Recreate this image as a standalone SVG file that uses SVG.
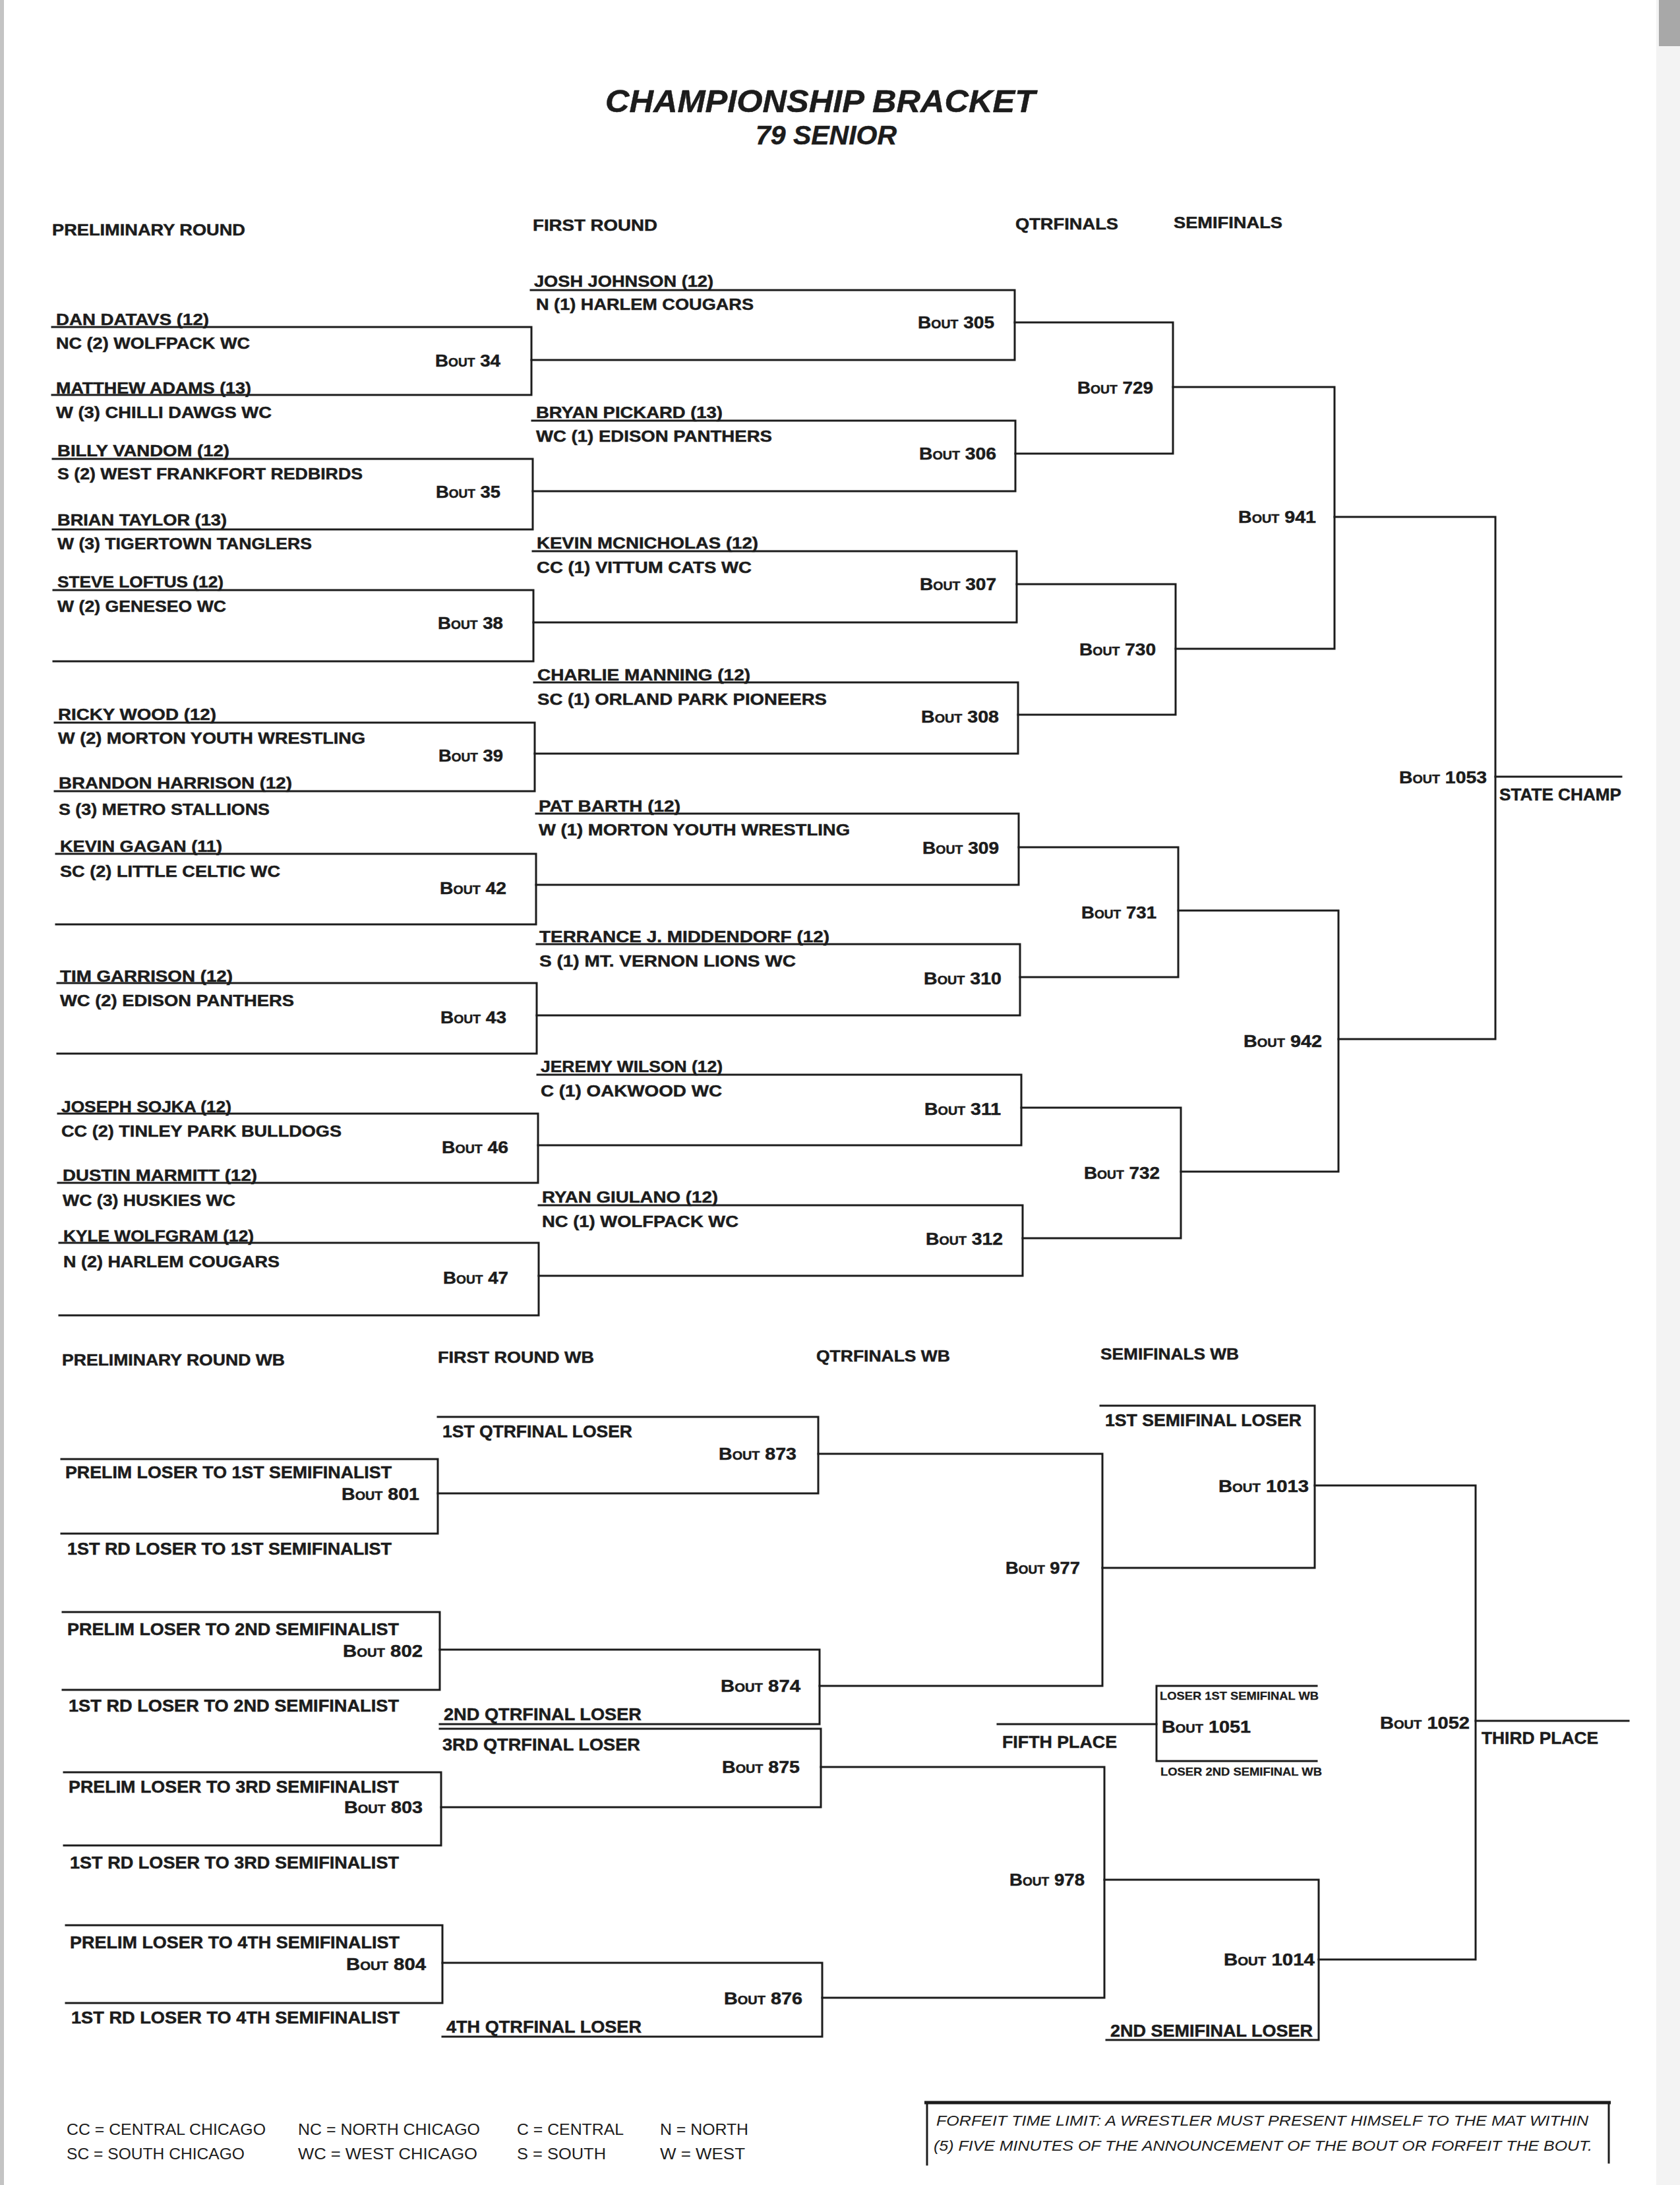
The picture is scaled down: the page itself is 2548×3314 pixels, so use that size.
<svg xmlns="http://www.w3.org/2000/svg" width="2548" height="3314" viewBox="0 0 2548 3314">
<style>
.ln{stroke:#1c1c1c;stroke-width:3;fill:none;stroke-linecap:square}
.t{font-family:"Liberation Sans",Arial,sans-serif;font-weight:bold;fill:#1c1c1c;stroke:#1c1c1c;stroke-width:0.5}
.nm{font-size:24px}
.bt{font-size:26px;font-variant:small-caps}
.hd{font-size:24px}
.wb{font-size:25px}
.sm{font-size:17px;stroke-width:0.3}
.ttl{font-size:48px;font-style:italic}
.sub{font-size:40px;font-style:italic}
.lg{font-family:"Liberation Sans",Arial,sans-serif;font-size:24px;fill:#1c1c1c}
.ff{font-family:"Liberation Sans",Arial,sans-serif;font-size:22px;font-style:italic;fill:#1c1c1c}
</style>
<rect width="2548" height="3314" fill="#ffffff"/>
<rect x="0" y="0" width="6" height="3314" fill="#c4c4c4"/>
<rect x="2512" y="0" width="36" height="3314" fill="#f3f3f3"/>
<rect x="2516" y="0" width="32" height="70" fill="#a8a8a8"/>

<g id="titles">
<text class="t ttl" x="918" y="170" textLength="652" lengthAdjust="spacingAndGlyphs">CHAMPIONSHIP BRACKET</text>
<text class="t sub" x="1146" y="219" textLength="214" lengthAdjust="spacingAndGlyphs">79 SENIOR</text>
<text class="t hd" x="79" y="357" textLength="293" lengthAdjust="spacingAndGlyphs">PRELIMINARY ROUND</text>
<text class="t hd" x="808" y="350" textLength="189" lengthAdjust="spacingAndGlyphs">FIRST ROUND</text>
<text class="t hd" x="1540" y="348" textLength="156" lengthAdjust="spacingAndGlyphs">QTRFINALS</text>
<text class="t hd" x="1780" y="346" textLength="165" lengthAdjust="spacingAndGlyphs">SEMIFINALS</text>
<text class="t hd" x="94" y="2071" textLength="338" lengthAdjust="spacingAndGlyphs">PRELIMINARY ROUND WB</text>
<text class="t hd" x="664" y="2067" textLength="237" lengthAdjust="spacingAndGlyphs">FIRST ROUND WB</text>
<text class="t hd" x="1238" y="2065" textLength="203" lengthAdjust="spacingAndGlyphs">QTRFINALS WB</text>
<text class="t hd" x="1669" y="2062" textLength="210" lengthAdjust="spacingAndGlyphs">SEMIFINALS WB</text>
</g>

<!-- Preliminary round -->
<g id="bout34">
<path class="ln" d="M79 496 H806 V599 H79"/>
<text class="t nm" x="85" y="493" textLength="232" lengthAdjust="spacingAndGlyphs">DAN DATAVS (12)</text>
<text class="t nm" x="85" y="529" textLength="294" lengthAdjust="spacingAndGlyphs">NC (2) WOLFPACK WC</text>
<text class="t bt" x="660" y="556" textLength="99" lengthAdjust="spacingAndGlyphs">Bout 34</text>
<text class="t nm" x="85" y="597" textLength="296" lengthAdjust="spacingAndGlyphs">MATTHEW ADAMS (13)</text>
<text class="t nm" x="85" y="634" textLength="327" lengthAdjust="spacingAndGlyphs">W (3) CHILLI DAWGS WC</text>
</g>
<g id="bout35">
<path class="ln" d="M80 696 H808 V803 H80"/>
<text class="t nm" x="87" y="692" textLength="261" lengthAdjust="spacingAndGlyphs">BILLY VANDOM (12)</text>
<text class="t nm" x="87" y="727" textLength="463" lengthAdjust="spacingAndGlyphs">S (2) WEST FRANKFORT REDBIRDS</text>
<text class="t bt" x="661" y="755" textLength="98" lengthAdjust="spacingAndGlyphs">Bout 35</text>
<text class="t nm" x="87" y="797" textLength="257" lengthAdjust="spacingAndGlyphs">BRIAN TAYLOR (13)</text>
<text class="t nm" x="87" y="833" textLength="386" lengthAdjust="spacingAndGlyphs">W (3) TIGERTOWN TANGLERS</text>
</g>
<g id="bout38">
<path class="ln" d="M81 895 H809 V1003 H81"/>
<text class="t nm" x="87" y="891" textLength="252" lengthAdjust="spacingAndGlyphs">STEVE LOFTUS (12)</text>
<text class="t nm" x="87" y="928" textLength="256" lengthAdjust="spacingAndGlyphs">W (2) GENESEO WC</text>
<text class="t bt" x="664" y="954" textLength="99" lengthAdjust="spacingAndGlyphs">Bout 38</text>
</g>
<g id="bout39">
<path class="ln" d="M83 1096 H811 V1200 H83"/>
<text class="t nm" x="88" y="1092" textLength="240" lengthAdjust="spacingAndGlyphs">RICKY WOOD (12)</text>
<text class="t nm" x="88" y="1128" textLength="466" lengthAdjust="spacingAndGlyphs">W (2) MORTON YOUTH WRESTLING</text>
<text class="t bt" x="665" y="1155" textLength="98" lengthAdjust="spacingAndGlyphs">Bout 39</text>
<text class="t nm" x="89" y="1196" textLength="354" lengthAdjust="spacingAndGlyphs">BRANDON HARRISON (12)</text>
<text class="t nm" x="89" y="1236" textLength="320" lengthAdjust="spacingAndGlyphs">S (3) METRO STALLIONS</text>
</g>
<g id="bout42">
<path class="ln" d="M85 1295 H813 V1402 H85"/>
<text class="t nm" x="91" y="1292" textLength="246" lengthAdjust="spacingAndGlyphs">KEVIN GAGAN (11)</text>
<text class="t nm" x="91" y="1330" textLength="334" lengthAdjust="spacingAndGlyphs">SC (2) LITTLE CELTIC WC</text>
<text class="t bt" x="667" y="1356" textLength="101" lengthAdjust="spacingAndGlyphs">Bout 42</text>
</g>
<g id="bout43">
<path class="ln" d="M87 1491 H814 V1598 H87"/>
<text class="t nm" x="91" y="1489" textLength="262" lengthAdjust="spacingAndGlyphs">TIM GARRISON (12)</text>
<text class="t nm" x="91" y="1526" textLength="355" lengthAdjust="spacingAndGlyphs">WC (2) EDISON PANTHERS</text>
<text class="t bt" x="668" y="1552" textLength="100" lengthAdjust="spacingAndGlyphs">Bout 43</text>
</g>
<g id="bout46">
<path class="ln" d="M88 1689 H816 V1794 H88"/>
<text class="t nm" x="93" y="1687" textLength="258" lengthAdjust="spacingAndGlyphs">JOSEPH SOJKA (12)</text>
<text class="t nm" x="93" y="1724" textLength="425" lengthAdjust="spacingAndGlyphs">CC (2) TINLEY PARK BULLDOGS</text>
<text class="t bt" x="670" y="1749" textLength="101" lengthAdjust="spacingAndGlyphs">Bout 46</text>
<text class="t nm" x="95" y="1791" textLength="295" lengthAdjust="spacingAndGlyphs">DUSTIN MARMITT (12)</text>
<text class="t nm" x="95" y="1829" textLength="262" lengthAdjust="spacingAndGlyphs">WC (3) HUSKIES WC</text>
</g>
<g id="bout47">
<path class="ln" d="M90 1885 H817 V1995 H90"/>
<text class="t nm" x="96" y="1883" textLength="289" lengthAdjust="spacingAndGlyphs">KYLE WOLFGRAM (12)</text>
<text class="t nm" x="96" y="1922" textLength="328" lengthAdjust="spacingAndGlyphs">N (2) HARLEM COUGARS</text>
<text class="t bt" x="672" y="1947" textLength="99" lengthAdjust="spacingAndGlyphs">Bout 47</text>
</g>

<!-- First round -->
<g id="bout305">
<path class="ln" d="M805 440 H1539 V546 H806"/>
<text class="t nm" x="810" y="435" textLength="272" lengthAdjust="spacingAndGlyphs">JOSH JOHNSON (12)</text>
<text class="t nm" x="813" y="470" textLength="330" lengthAdjust="spacingAndGlyphs">N (1) HARLEM COUGARS</text>
<text class="t bt" x="1392" y="498" textLength="116" lengthAdjust="spacingAndGlyphs">Bout 305</text>
</g>
<g id="bout306">
<path class="ln" d="M807 638 H1540 V745 H808"/>
<text class="t nm" x="813" y="634" textLength="283" lengthAdjust="spacingAndGlyphs">BRYAN PICKARD (13)</text>
<text class="t nm" x="813" y="670" textLength="358" lengthAdjust="spacingAndGlyphs">WC (1) EDISON PANTHERS</text>
<text class="t bt" x="1394" y="697" textLength="117" lengthAdjust="spacingAndGlyphs">Bout 306</text>
</g>
<g id="bout307">
<path class="ln" d="M808 836 H1542 V944 H809"/>
<text class="t nm" x="814" y="832" textLength="336" lengthAdjust="spacingAndGlyphs">KEVIN MCNICHOLAS (12)</text>
<text class="t nm" x="814" y="869" textLength="326" lengthAdjust="spacingAndGlyphs">CC (1) VITTUM CATS WC</text>
<text class="t bt" x="1395" y="895" textLength="116" lengthAdjust="spacingAndGlyphs">Bout 307</text>
</g>
<g id="bout308">
<path class="ln" d="M810 1035 H1544 V1143 H811"/>
<text class="t nm" x="815" y="1032" textLength="323" lengthAdjust="spacingAndGlyphs">CHARLIE MANNING (12)</text>
<text class="t nm" x="815" y="1069" textLength="439" lengthAdjust="spacingAndGlyphs">SC (1) ORLAND PARK PIONEERS</text>
<text class="t bt" x="1397" y="1096" textLength="118" lengthAdjust="spacingAndGlyphs">Bout 308</text>
</g>
<g id="bout309">
<path class="ln" d="M813 1234 H1545 V1342 H813"/>
<text class="t nm" x="817" y="1231" textLength="215" lengthAdjust="spacingAndGlyphs">PAT BARTH (12)</text>
<text class="t nm" x="817" y="1267" textLength="472" lengthAdjust="spacingAndGlyphs">W (1) MORTON YOUTH WRESTLING</text>
<text class="t bt" x="1399" y="1295" textLength="116" lengthAdjust="spacingAndGlyphs">Bout 309</text>
</g>
<g id="bout310">
<path class="ln" d="M814 1432 H1547 V1540 H814"/>
<text class="t nm" x="818" y="1429" textLength="440" lengthAdjust="spacingAndGlyphs">TERRANCE J. MIDDENDORF (12)</text>
<text class="t nm" x="818" y="1466" textLength="389" lengthAdjust="spacingAndGlyphs">S (1) MT. VERNON LIONS WC</text>
<text class="t bt" x="1401" y="1493" textLength="118" lengthAdjust="spacingAndGlyphs">Bout 310</text>
</g>
<g id="bout311">
<path class="ln" d="M815 1630 H1549 V1737 H816"/>
<text class="t nm" x="820" y="1626" textLength="276" lengthAdjust="spacingAndGlyphs">JEREMY WILSON (12)</text>
<text class="t nm" x="820" y="1663" textLength="275" lengthAdjust="spacingAndGlyphs">C (1) OAKWOOD WC</text>
<text class="t bt" x="1402" y="1691" textLength="116" lengthAdjust="spacingAndGlyphs">Bout 311</text>
</g>
<g id="bout312">
<path class="ln" d="M817 1828 H1551 V1935 H817"/>
<text class="t nm" x="822" y="1824" textLength="267" lengthAdjust="spacingAndGlyphs">RYAN GIULANO (12)</text>
<text class="t nm" x="822" y="1861" textLength="298" lengthAdjust="spacingAndGlyphs">NC (1) WOLFPACK WC</text>
<text class="t bt" x="1404" y="1888" textLength="117" lengthAdjust="spacingAndGlyphs">Bout 312</text>
</g>

<!-- Quarterfinals / semis / final -->
<g id="bout729">
<path class="ln" d="M1539 489 H1779 V688 H1540"/>
<text class="t bt" x="1634" y="597" textLength="115" lengthAdjust="spacingAndGlyphs">Bout 729</text>
</g>
<g id="bout730">
<path class="ln" d="M1542 886 H1783 V1084 H1544"/>
<text class="t bt" x="1637" y="994" textLength="116" lengthAdjust="spacingAndGlyphs">Bout 730</text>
</g>
<g id="bout731">
<path class="ln" d="M1545 1285 H1787 V1482 H1547"/>
<text class="t bt" x="1640" y="1393" textLength="114" lengthAdjust="spacingAndGlyphs">Bout 731</text>
</g>
<g id="bout732">
<path class="ln" d="M1549 1680 H1791 V1878 H1551"/>
<text class="t bt" x="1644" y="1788" textLength="115" lengthAdjust="spacingAndGlyphs">Bout 732</text>
</g>
<g id="bout941">
<path class="ln" d="M1779 587 H2024 V984 H1783"/>
<text class="t bt" x="1878" y="793" textLength="118" lengthAdjust="spacingAndGlyphs">Bout 941</text>
</g>
<g id="bout942">
<path class="ln" d="M1787 1381 H2030 V1777 H1791"/>
<text class="t bt" x="1886" y="1588" textLength="119" lengthAdjust="spacingAndGlyphs">Bout 942</text>
</g>
<g id="bout1053">
<path class="ln" d="M2024 784 H2268 V1576 H2030"/>
<text class="t bt" x="2122" y="1188" textLength="133" lengthAdjust="spacingAndGlyphs">Bout 1053</text>
</g>
<g id="statechamp">
<text class="t wb" x="2274" y="1214" textLength="185" lengthAdjust="spacingAndGlyphs">STATE CHAMP</text>
</g>

<!-- Wrestle-back preliminary -->
<g id="bout801">
<path class="ln" d="M93 2213 H664 V2326 H93"/>
<text class="t wb" x="99" y="2242" textLength="495" lengthAdjust="spacingAndGlyphs">PRELIM LOSER TO 1ST SEMIFINALIST</text>
<text class="t bt" x="518" y="2275" textLength="118" lengthAdjust="spacingAndGlyphs">Bout 801</text>
<text class="t wb" x="102" y="2358" textLength="492" lengthAdjust="spacingAndGlyphs">1ST RD LOSER TO 1ST SEMIFINALIST</text>
</g>
<g id="bout802">
<path class="ln" d="M95 2445 H667 V2563 H95"/>
<text class="t wb" x="102" y="2480" textLength="503" lengthAdjust="spacingAndGlyphs">PRELIM LOSER TO 2ND SEMIFINALIST</text>
<text class="t bt" x="520" y="2513" textLength="121" lengthAdjust="spacingAndGlyphs">Bout 802</text>
<text class="t wb" x="104" y="2596" textLength="501" lengthAdjust="spacingAndGlyphs">1ST RD LOSER TO 2ND SEMIFINALIST</text>
</g>
<g id="bout803">
<path class="ln" d="M97 2688 H669 V2799 H97"/>
<text class="t wb" x="104" y="2719" textLength="501" lengthAdjust="spacingAndGlyphs">PRELIM LOSER TO 3RD SEMIFINALIST</text>
<text class="t bt" x="522" y="2750" textLength="119" lengthAdjust="spacingAndGlyphs">Bout 803</text>
<text class="t wb" x="106" y="2834" textLength="499" lengthAdjust="spacingAndGlyphs">1ST RD LOSER TO 3RD SEMIFINALIST</text>
</g>
<g id="bout804">
<path class="ln" d="M100 2920 H671 V3038 H100"/>
<text class="t wb" x="106" y="2955" textLength="500" lengthAdjust="spacingAndGlyphs">PRELIM LOSER TO 4TH SEMIFINALIST</text>
<text class="t bt" x="525" y="2988" textLength="121" lengthAdjust="spacingAndGlyphs">Bout 804</text>
<text class="t wb" x="108" y="3069" textLength="498" lengthAdjust="spacingAndGlyphs">1ST RD LOSER TO 4TH SEMIFINALIST</text>
</g>

<!-- Wrestle-back first round -->
<g id="bout873">
<path class="ln" d="M664 2149 H1241 V2265 H664"/>
<text class="t wb" x="671" y="2180" textLength="288" lengthAdjust="spacingAndGlyphs">1ST QTRFINAL LOSER</text>
<text class="t bt" x="1090" y="2214" textLength="118" lengthAdjust="spacingAndGlyphs">Bout 873</text>
</g>
<g id="bout874">
<path class="ln" d="M667 2502 H1243 V2615 H667"/>
<text class="t bt" x="1093" y="2566" textLength="121" lengthAdjust="spacingAndGlyphs">Bout 874</text>
<text class="t wb" x="673" y="2609" textLength="300" lengthAdjust="spacingAndGlyphs">2ND QTRFINAL LOSER</text>
</g>
<g id="bout875">
<path class="ln" d="M667 2622 H1245 V2741 H669"/>
<text class="t wb" x="671" y="2655" textLength="300" lengthAdjust="spacingAndGlyphs">3RD QTRFINAL LOSER</text>
<text class="t bt" x="1095" y="2689" textLength="118" lengthAdjust="spacingAndGlyphs">Bout 875</text>
</g>
<g id="bout876">
<path class="ln" d="M671 2977 H1247 V3089 H671"/>
<text class="t bt" x="1098" y="3040" textLength="119" lengthAdjust="spacingAndGlyphs">Bout 876</text>
<text class="t wb" x="677" y="3083" textLength="296" lengthAdjust="spacingAndGlyphs">4TH QTRFINAL LOSER</text>
</g>

<!-- Wrestle-back quarterfinals / semis -->
<g id="bout977">
<path class="ln" d="M1241 2205 H1672 V2557 H1243"/>
<text class="t bt" x="1525" y="2387" textLength="113" lengthAdjust="spacingAndGlyphs">Bout 977</text>
</g>
<g id="bout978">
<path class="ln" d="M1245 2680 H1675 V3030 H1247"/>
<text class="t bt" x="1531" y="2860" textLength="114" lengthAdjust="spacingAndGlyphs">Bout 978</text>
</g>
<g id="bout1013">
<path class="ln" d="M1669 2132 H1994 V2378 H1672"/>
<text class="t wb" x="1676" y="2163" textLength="298" lengthAdjust="spacingAndGlyphs">1ST SEMIFINAL LOSER</text>
<text class="t bt" x="1848" y="2263" textLength="137" lengthAdjust="spacingAndGlyphs">Bout 1013</text>
</g>
<g id="bout1014">
<path class="ln" d="M1675 2851 H2000 V3094 H1678"/>
<text class="t bt" x="1856" y="2981" textLength="138" lengthAdjust="spacingAndGlyphs">Bout 1014</text>
<text class="t wb" x="1684" y="3089" textLength="307" lengthAdjust="spacingAndGlyphs">2ND SEMIFINAL LOSER</text>
</g>
<g id="bout1051">
<path class="ln" d="M1997 2557 H1754 V2671 H1997"/>
<text class="t sm" x="1759" y="2578" textLength="241" lengthAdjust="spacingAndGlyphs">LOSER 1ST SEMIFINAL WB</text>
<text class="t bt" x="1762" y="2628" textLength="135" lengthAdjust="spacingAndGlyphs">Bout 1051</text>
<text class="t sm" x="1760" y="2693" textLength="245" lengthAdjust="spacingAndGlyphs">LOSER 2ND SEMIFINAL WB</text>
</g>
<g id="fifthplace">
<text class="t wb" x="1520" y="2651" textLength="174" lengthAdjust="spacingAndGlyphs">FIFTH PLACE</text>
</g>
<g id="bout1052">
<path class="ln" d="M1994 2253 H2238 V2972 H2000"/>
<text class="t bt" x="2093" y="2622" textLength="136" lengthAdjust="spacingAndGlyphs">Bout 1052</text>
</g>
<g id="thirdplace">
<text class="t wb" x="2247" y="2645" textLength="177" lengthAdjust="spacingAndGlyphs">THIRD PLACE</text>
</g>

<g id="connectors">
<path class="ln" d="M2268 1178 H2459"/>
<path class="ln" d="M2238 2610 H2470"/>
<path class="ln" d="M1513 2615 H1754"/>
</g>

<g id="legend">
<text class="lg" x="101" y="3238" textLength="302" lengthAdjust="spacingAndGlyphs">CC = CENTRAL CHICAGO</text>
<text class="lg" x="452" y="3238" textLength="276" lengthAdjust="spacingAndGlyphs">NC = NORTH CHICAGO</text>
<text class="lg" x="784" y="3238" textLength="162" lengthAdjust="spacingAndGlyphs">C = CENTRAL</text>
<text class="lg" x="1001" y="3238" textLength="134" lengthAdjust="spacingAndGlyphs">N = NORTH</text>
<text class="lg" x="101" y="3275" textLength="270" lengthAdjust="spacingAndGlyphs">SC = SOUTH CHICAGO</text>
<text class="lg" x="452" y="3275" textLength="272" lengthAdjust="spacingAndGlyphs">WC = WEST CHICAGO</text>
<text class="lg" x="784" y="3275" textLength="135" lengthAdjust="spacingAndGlyphs">S = SOUTH</text>
<text class="lg" x="1001" y="3275" textLength="129" lengthAdjust="spacingAndGlyphs">W = WEST</text>
</g>

<g id="forfeit">
<path d="M1402 3189 H2443" stroke="#1c1c1c" stroke-width="5" fill="none"/>
<path class="ln" d="M1406 3189 V3283"/>
<path class="ln" d="M2440 3189 V3280"/>
<text class="ff" x="1420" y="3224" textLength="989" lengthAdjust="spacingAndGlyphs">FORFEIT TIME LIMIT: A WRESTLER MUST PRESENT HIMSELF TO THE MAT WITHIN</text>
<text class="ff" x="1416" y="3262" textLength="999" lengthAdjust="spacingAndGlyphs">(5) FIVE MINUTES OF THE ANNOUNCEMENT OF THE BOUT OR FORFEIT THE BOUT.</text>
</g>
</svg>
